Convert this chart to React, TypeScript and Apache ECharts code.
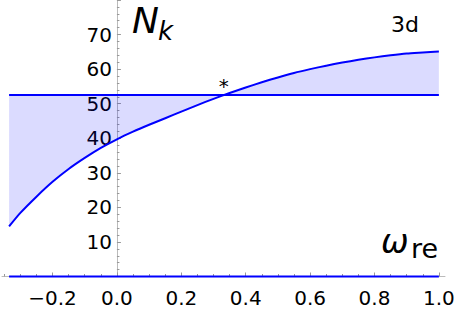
import React, { useEffect, useRef } from "react";
import * as echarts from "echarts";

// ---- data ----
const omega = [-0.335, -0.3, -0.25, -0.2, -0.15, -0.1, -0.05, 0, 0.05, 0.1, 0.15, 0.2, 0.25, 0.3, 0.35, 0.4, 0.45, 0.5, 0.55, 0.6, 0.65, 0.7, 0.75, 0.8, 0.85, 0.9, 0.95, 1.0];
const nk = [14.5, 18.4, 23.1, 27.4, 31.1, 34.3, 37.2, 39.7, 41.9, 43.9, 45.8, 47.7, 49.6, 51.4, 53.1, 54.7, 56.2, 57.6, 58.9, 60.0, 61.0, 61.9, 62.7, 63.4, 64.0, 64.5, 64.8, 65.1];
const nStar = 52.5;
const crossOmega = 0.332;
const xMajorTicks = [-0.2, 0, 0.2, 0.4, 0.6, 0.8, 1.0];
const xMinorTicks = [-0.35, -0.3, -0.25, -0.15, -0.1, -0.05, 0.05, 0.1, 0.15, 0.25, 0.3, 0.35, 0.45, 0.5, 0.55, 0.65, 0.7, 0.75, 0.85, 0.9, 0.95];
const yTickLabels = [10, 20, 30, 40, 50, 60, 70];

const BLUE = "#0000ff";
const FILL = "rgba(0,0,255,0.2)";
const AXIS_GRAY = "#bbbbbb";
const TICK_GRAY = "#999999";
const FONT = "DejaVu Sans";

export default function App() {
  const ref = useRef<HTMLDivElement>(null);

  useEffect(() => {
    if (!ref.current) return;
    const chart = echarts.init(ref.current, null, { renderer: "svg" });
    const xMin = -0.357;
    const xMax = 1.019;
    const gridLeft = 2;
    const gridRight = 12;
    const width = 457;
    // pixel position of omega = 0 inside the grid, so the y axis sits on it
    const zeroOffset = ((0 - xMin) / (xMax - xMin)) * (width - gridLeft - gridRight);
    const curve = omega.map((x, i) => [x, nk[i]]);
    const level = [
      [omega[0], nStar],
      [omega[omega.length - 1], nStar],
    ];
    const base = [
      [omega[0], 0],
      [omega[omega.length - 1], 0],
    ];
    const fmtX = (v: number) => v.toFixed(1).replace("-", "\u2212");
    chart.setOption({
      animation: false,
      grid: { left: gridLeft, right: gridRight, top: 0, bottom: 33.5, containLabel: false, outerBoundsMode: "none" },
      xAxis: [
        {
          type: "value",
          position: "bottom",
          min: xMin,
          max: xMax,
          axisLine: { show: true, onZero: true, lineStyle: { color: AXIS_GRAY, width: 1 } },
          axisTick: { show: true, inside: true, length: 4, customValues: xMajorTicks, lineStyle: { color: TICK_GRAY } },
          axisLabel: {
            show: true,
            customValues: xMajorTicks,
            formatter: fmtX,
            fontSize: 20,
            fontFamily: FONT,
            color: "#000",
            margin: 11,
            hideOverlap: false,
          },
          splitLine: { show: false },
        },
        {
          type: "value",
          position: "bottom",
          min: xMin,
          max: xMax,
          axisLine: { show: false },
          axisTick: { show: true, inside: true, length: 2.5, customValues: xMinorTicks, lineStyle: { color: TICK_GRAY } },
          axisLabel: { show: false },
          splitLine: { show: false },
        },
      ],
      yAxis: {
        type: "value",
        position: "left",
        offset: -zeroOffset,
        min: 0,
        max: 80,
        interval: 10,
        axisLine: { show: true, onZero: false, lineStyle: { color: AXIS_GRAY, width: 1 } },
        axisTick: { show: true, inside: true, length: 4, lineStyle: { color: TICK_GRAY } },
        minorTick: { show: true, splitNumber: 5, length: 2.5, lineStyle: { color: TICK_GRAY } },
        axisLabel: {
          show: true,
          customValues: yTickLabels,
          formatter: (v: number) => String(v),
          fontSize: 20,
          fontFamily: FONT,
          color: "#000",
          margin: 5,
          hideOverlap: false,
        },
        splitLine: { show: false },
        minorSplitLine: { show: false },
      },
      series: [
        {
          type: "line",
          data: curve,
          showSymbol: false,
          smooth: 0.2,
          lineStyle: { color: BLUE, width: 2 },
          itemStyle: { color: BLUE },
          areaStyle: { color: FILL, origin: nStar },
          z: 3,
        },
        {
          type: "line",
          data: level,
          showSymbol: false,
          lineStyle: { color: BLUE, width: 2 },
          itemStyle: { color: BLUE },
          z: 4,
          markPoint: {
            symbol: "circle",
            symbolSize: 1,
            itemStyle: { color: "rgba(0,0,0,0)" },
            label: {
              show: true,
              formatter: "*",
              position: "inside",
              offset: [0, -9],
              fontSize: 20,
              fontFamily: FONT,
              color: "#000",
            },
            data: [{ coord: [crossOmega, nStar] }],
          },
        },
        {
          type: "line",
          data: base,
          showSymbol: false,
          clip: false,
          lineStyle: { color: BLUE, width: 2 },
          itemStyle: { color: BLUE },
          z: 4,
        },
      ],
      graphic: [
        {
          type: "text",
          x: 132,
          y: 20,
          style: { text: "N", fontSize: 36, fontStyle: "italic", fontFamily: FONT, fill: "#000", align: "left", verticalAlign: "middle" },
        },
        {
          type: "text",
          x: 158,
          y: 31,
          style: { text: "k", fontSize: 26, fontStyle: "italic", fontFamily: FONT, fill: "#000", align: "left", verticalAlign: "middle" },
        },
        {
          type: "text",
          x: 381,
          y: 241,
          style: { text: "\u03c9", fontSize: 33, fontStyle: "italic", fontFamily: FONT, fill: "#000", align: "left", verticalAlign: "middle" },
        },
        {
          type: "text",
          x: 411,
          y: 248,
          style: { text: "re", fontSize: 27, fontFamily: FONT, fill: "#000", align: "left", verticalAlign: "middle" },
        },
        {
          type: "text",
          x: 391,
          y: 24,
          style: { text: "3d", fontSize: 22, fontFamily: FONT, fill: "#000", align: "left", verticalAlign: "middle" },
        },
      ],
    });
    return () => chart.dispose();
  }, []);

  return (
    <div
      ref={ref}
      style={{ position: "absolute", left: 0, top: 0, width: 457, height: 310 }}
    />
  );
}
